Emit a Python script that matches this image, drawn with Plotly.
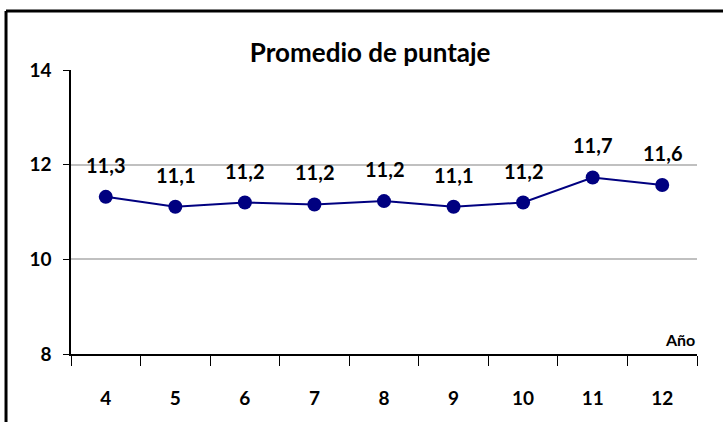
import plotly.graph_objects as go

years = ["4", "5", "6", "7", "8", "9", "10", "11", "12"]
avg_score = [11.32, 11.11, 11.20, 11.16, 11.23, 11.11, 11.20, 11.73, 11.57]
y_ticks = [8, 10, 12, 14]

FONT = "Lato, 'Open Sans', Arial, sans-serif"
NAVY = "#000080"

labels = [f"{v:.1f}".replace(".", ",") for v in avg_score]

fig = go.Figure()
fig.add_trace(
    go.Scatter(
        x=years,
        y=avg_score,
        mode="lines+markers",
        line=dict(color=NAVY, width=2),
        marker=dict(color=NAVY, size=14),
        hoverinfo="skip",
    )
)

# data labels sit well above each marker (x by category index)
for i, (y, t) in enumerate(zip(avg_score, labels)):
    fig.add_annotation(
        x=i, y=y, text=f"<b>{t}</b>", showarrow=False,
        yshift=32, font=dict(family=FONT, size=20, color="black"),
    )

fig.add_annotation(
    xref="paper", yref="paper", x=1, y=0, xanchor="right", yanchor="bottom",
    text="<b>Año</b>", showarrow=False, yshift=3,
    font=dict(family=FONT, size=16, color="black"),
)

# outer chart frame (top and left edges visible)
fig.add_shape(type="line", xref="paper", yref="paper",
              x0=-0.1038, x1=1.05, y0=1.2077, y1=1.2077,
              line=dict(color="black", width=3))
fig.add_shape(type="line", xref="paper", yref="paper",
              x0=-0.1038, x1=-0.1038, y0=1.2077, y1=-0.25,
              line=dict(color="black", width=3))

fig.update_layout(
    width=723,
    height=422,
    margin=dict(l=71, r=26, t=70, b=68),
    paper_bgcolor="white",
    plot_bgcolor="white",
    showlegend=False,
    title=dict(
        text="<b>Promedio de puntaje</b>",
        x=0.512, xanchor="center", y=0.874, yanchor="middle",
        font=dict(family=FONT, size=26, color="black"),
    ),
    xaxis=dict(
        type="category",
        tickson="boundaries",
        ticks="outside",
        ticklen=10,
        tickcolor="black",
        showline=True,
        linecolor="black",
        linewidth=2,
        showgrid=False,
        ticklabelstandoff=26,
        tickfont=dict(family=FONT, size=19, color="black"),
        tickprefix="<b>",
        ticksuffix="</b>",
        range=[-0.5, len(years) - 0.5],
    ),
    yaxis=dict(
        range=[8, 14],
        tickvals=y_ticks,
        ticktext=[f"<b>{v}</b>" for v in y_ticks],
        ticks="outside",
        ticklen=6,
        tickcolor="black",
        showline=True,
        linecolor="black",
        linewidth=1.5,
        showgrid=True,
        gridcolor="#c0c0c0",
        gridwidth=1.5,
        zeroline=False,
        ticklabelstandoff=8,
        tickfont=dict(family=FONT, size=19, color="black"),
    ),
)

fig.write_html(
    "out.html",
    config={"displayModeBar": False},
    post_script="document.body.style.margin='0';",
)
